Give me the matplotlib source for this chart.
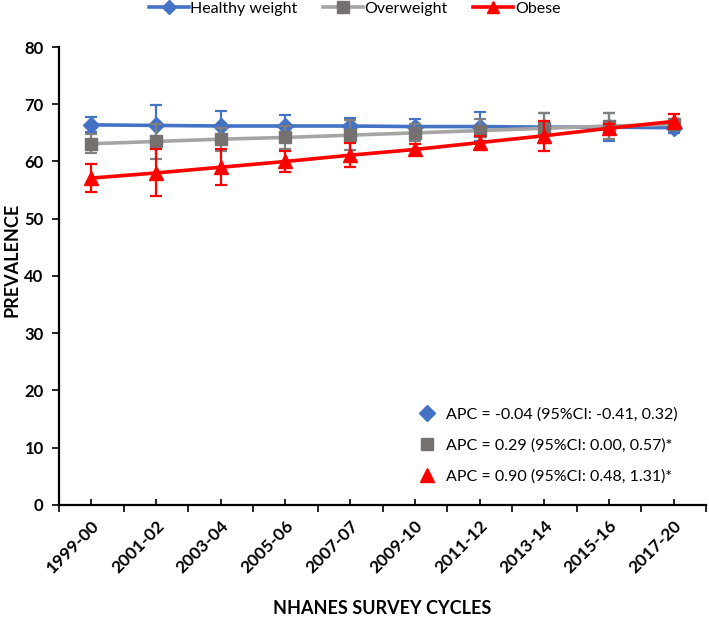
import numpy as np
import matplotlib.pyplot as plt
from matplotlib.lines import Line2D

plt.rcParams['font.family'] = ['Lato', 'DejaVu Sans']

# dados
cycles = ["1999-00", "2001-02", "2003-04", "2005-06", "2007-07",
          "2009-10", "2011-12", "2013-14", "2015-16", "2017-20"]
healthy = [66.4, 66.3, 66.2, 66.2, 66.2, 66.1, 66.1, 66.0, 66.0, 65.9]
healthy_err = [1.3, 3.5, 2.7, 1.9, 1.4, 1.3, 2.5, 2.4, 2.5, 1.0]
overweight = [63.1, 63.5, 63.9, 64.2, 64.6, 65.0, 65.4, 65.8, 66.2, 66.5]
overweight_err = [1.7, 3.0, 2.0, 2.0, 2.6, 1.5, 2.1, 2.6, 2.3, 1.0]
obese = [57.1, 58.0, 59.0, 60.0, 61.1, 62.1, 63.3, 64.5, 65.8, 67.0]
obese_err = [2.5, 4.1, 3.1, 1.9, 2.1, 1.0, 1.2, 2.6, 0.8, 1.3]

series_names = ["Healthy weight", "Overweight", "Obese"]
apc_labels = ["APC = -0.04 (95%CI: -0.41, 0.32)",
              "APC = 0.29 (95%CI: 0.00, 0.57)*",
              "APC = 0.90 (95%CI: 0.48, 1.31)*"]

blue = "#4472C4"
grey_line = "#A5A5A5"
grey_mk = "#767171"
red = "#FF0000"

fig = plt.figure(figsize=(7.09, 6.36), dpi=100)
ax = fig.add_axes([0.0832, 0.206, 0.9126, 0.7201])

x = np.arange(len(cycles))

ax.errorbar(x, healthy, yerr=healthy_err, color=blue, lw=2.6, marker="D",
            ms=8, mfc=blue, mec=blue, ecolor=blue, elinewidth=1.6,
            capsize=4, capthick=1.6, zorder=2)
ax.errorbar(x, overweight, yerr=overweight_err, color=grey_line, lw=2.6,
            marker="s", ms=8.5, mfc=grey_mk, mec=grey_mk, ecolor="#808080",
            elinewidth=1.6, capsize=4, capthick=1.6, zorder=3)
ax.errorbar(x, obese, yerr=obese_err, color=red, lw=2.6, marker="^",
            ms=9.5, mfc=red, mec=red, ecolor=red, elinewidth=1.6,
            capsize=4, capthick=1.6, zorder=4)

ax.set_xlim(-0.5, len(cycles) - 0.5)
ax.set_ylim(0, 80)
ax.set_yticks(np.arange(0, 81, 10))

# rótulos no centro das categorias, marcas nas divisões
ax.set_xticks(x)
ax.set_xticklabels(cycles, rotation=45, ha="right", va="top",
                   rotation_mode="anchor", fontweight="bold", fontsize=12.5)
ax.set_xticks(np.arange(-0.5, len(cycles)), minor=True)
ax.tick_params(axis="x", which="major", direction="in", length=4,
               width=1.2, pad=9)
ax.tick_params(axis="x", which="minor", direction="out", length=5, width=1.2)
ax.tick_params(axis="y", direction="out", length=5, width=1.2, pad=6)
for lab in ax.get_yticklabels():
    lab.set_fontweight("bold")
    lab.set_fontsize(12)

for s in ["top", "right"]:
    ax.spines[s].set_visible(False)
for s in ["left", "bottom"]:
    ax.spines[s].set_linewidth(1.6)
    ax.spines[s].set_color("black")

ax.set_ylabel("PREVALENCE", fontweight="bold", fontsize=13)
ax.yaxis.set_label_coords(-0.059, 0.535)
ax.set_xlabel("NHANES SURVEY CYCLES", fontweight="bold", fontsize=13)
ax.xaxis.set_label_coords(0.5, -0.207)

# legenda superior
top_handles = [
    Line2D([], [], color=blue, lw=2.6, marker="D", ms=7, mfc=blue, mec=blue),
    Line2D([], [], color=grey_line, lw=2.6, marker="s", ms=8, mfc=grey_mk,
           mec=grey_mk),
    Line2D([], [], color=red, lw=2.6, marker="^", ms=9, mfc=red, mec=red),
]
fig.legend(top_handles, series_names, loc="upper center",
           bbox_to_anchor=(0.5, 1.02), ncol=3, frameon=False, fontsize=11.5,
           handlelength=2.5, handletextpad=0.1, columnspacing=1.6)

# legenda das APC
apc_handles = [
    Line2D([], [], ls="", marker="D", ms=8, color=blue),
    Line2D([], [], ls="", marker="s", ms=8.5, color=grey_mk),
    Line2D([], [], ls="", marker="^", ms=10, color=red),
]
ax.legend(apc_handles, apc_labels, loc="lower right",
          bbox_to_anchor=(0.978, 0.016), frameon=False, fontsize=11.5,
          handlelength=1.2, handletextpad=0.6, labelspacing=1.02)

fig.savefig("out.png", dpi=100)
